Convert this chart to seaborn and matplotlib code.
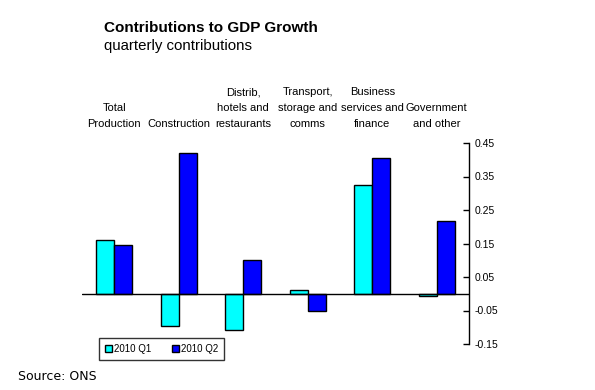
import matplotlib
matplotlib.use("Agg")
import matplotlib.pyplot as plt
import pandas as pd
import seaborn as sns

categories = [
    "Total\nProduction",
    "Construction",
    "Distrib,\nhotels and\nrestaurants",
    "Transport,\nstorage and\ncomms",
    "Business\nservices and\nfinance",
    "Government\nand other",
]
q1_values = [0.159, -0.095, -0.107, 0.012, 0.324, -0.007]
q2_values = [0.147, 0.420, 0.102, -0.050, 0.404, 0.216]
series = ["2010 Q1", "2010 Q2"]
y_ticks = [-0.15, -0.05, 0.05, 0.15, 0.25, 0.35, 0.45]

sns.set_style("white")
plt.rcParams["font.family"] = ["Liberation Sans", "DejaVu Sans"]
plt.rcParams["text.color"] = "black"
plt.rcParams["xtick.color"] = "black"
plt.rcParams["ytick.color"] = "black"

df = pd.DataFrame({
    "category": categories * 2,
    "value": q1_values + q2_values,
    "series": [series[0]] * len(categories) + [series[1]] * len(categories),
})

fig = plt.figure(figsize=(5.95, 3.9), dpi=100)
ax = fig.add_axes([82 / 595, 1 - 344 / 390, 387 / 595, 201 / 390])

sns.barplot(data=df, x="category", y="value", hue="series",
            palette=["#00FFFF", "#0000FF"], saturation=1,
            edgecolor="black", linewidth=1,
            width=0.56, ax=ax, order=categories, hue_order=series)

ax.set_xlim(-0.5, len(categories) - 0.5)
ax.set_ylim(-0.15, 0.45)
ax.axhline(0, color="black", lw=1, zorder=3)

# y axis on the right, ticks pointing inward
ax.yaxis.tick_right()
ax.set_yticks(y_ticks)
ax.set_yticklabels([f"{t:.2f}" for t in y_ticks], fontsize=7.5)
ax.tick_params(axis="y", direction="in", length=4, width=1, pad=4)

# category labels above the plot
ax.xaxis.tick_top()
ax.set_xticks(range(len(categories)))
ax.set_xticklabels(categories, fontsize=8, linespacing=1.75)
ax.tick_params(axis="x", length=0, pad=10)
ax.set_xlabel("")
ax.set_ylabel("")

for side in ["left", "top", "bottom"]:
    ax.spines[side].set_visible(False)
ax.spines["right"].set_color("black")
ax.spines["right"].set_linewidth(1)

leg = ax.legend(loc="lower left", bbox_to_anchor=(0.044, -0.08), ncol=2,
                fontsize=7, frameon=True, fancybox=False, borderaxespad=0,
                handlelength=0.7, handleheight=0.7, handletextpad=0.2,
                columnspacing=2.2, borderpad=0.6)
leg.get_frame().set_edgecolor("black")
leg.get_frame().set_linewidth(1)

fig.text(104 / 595, 1 - 28 / 390, "Contributions to GDP Growth",
         fontsize=11, fontweight="bold", va="center")
fig.text(104 / 595, 1 - 46 / 390, "quarterly contributions",
         fontsize=10.8, va="center")
fig.text(18 / 595, 1 - 377 / 390, "Source: ONS", fontsize=9,
         va="center", family="DejaVu Sans")

fig.savefig("out.png", dpi=100)
